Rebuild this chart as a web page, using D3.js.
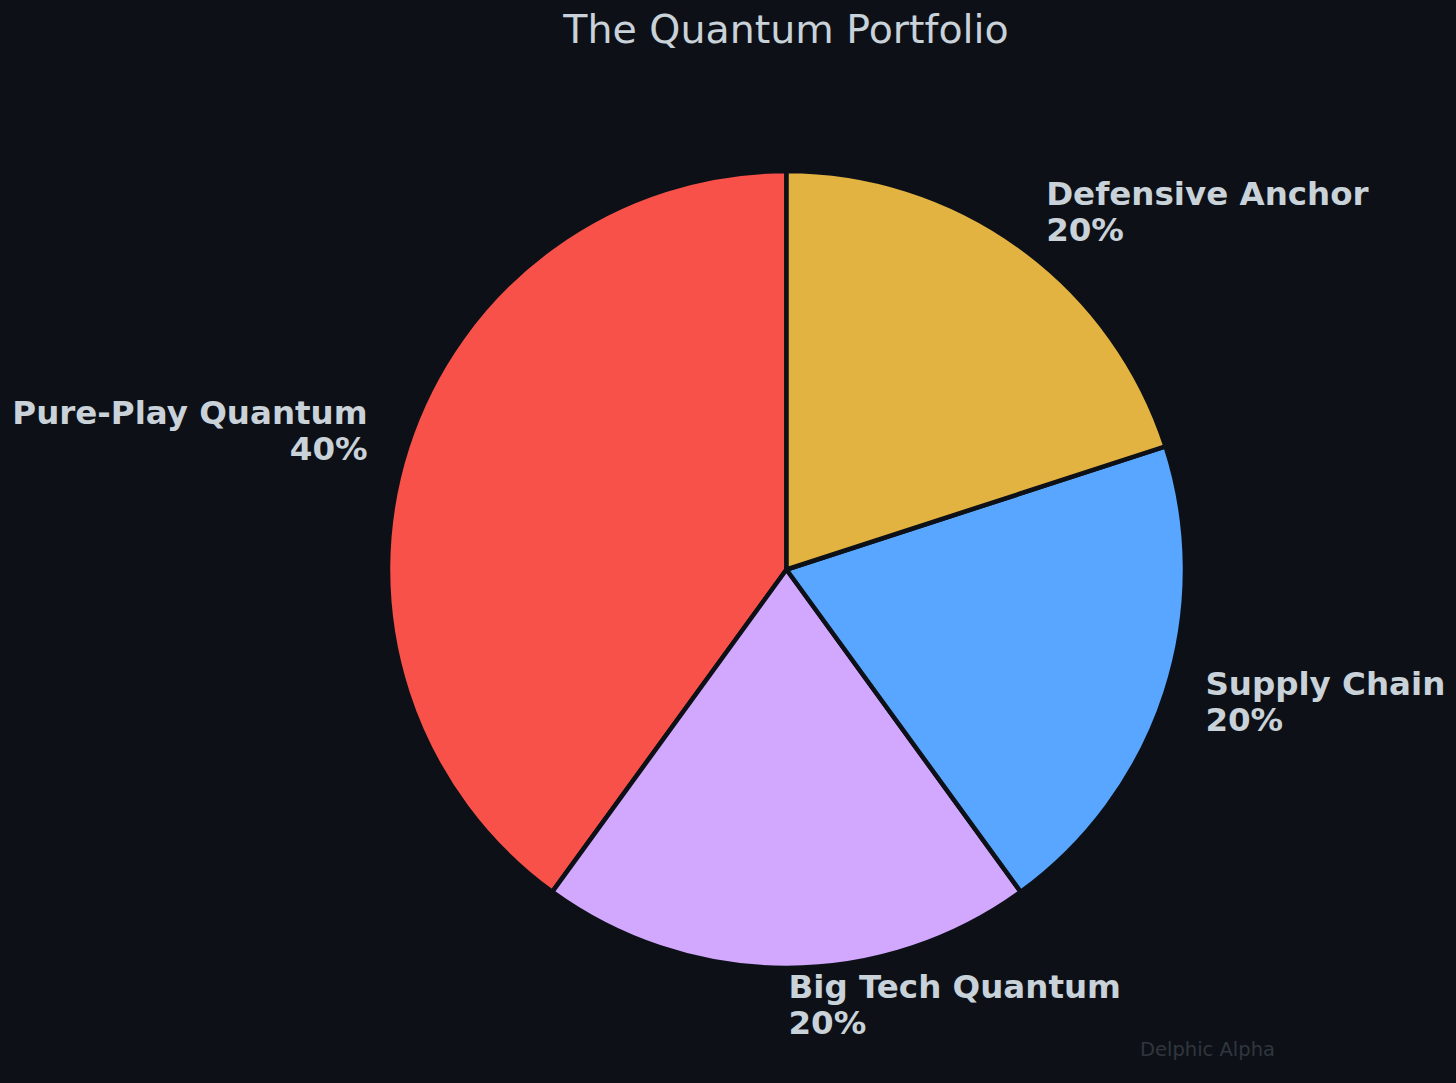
<!DOCTYPE html>
<html>
<head>
<meta charset="utf-8">
<script src="https://cdn.jsdelivr.net/npm/d3@7"></script>
<style>
  html, body { margin: 0; padding: 0; background: #0d1117; }
  svg { display: block; }
</style>
</head>
<body>
<svg id="chart" width="1456" height="1083"></svg>
<script>
// portfolio slices, in the order they are laid out (counter-clockwise from 12 o'clock)
var categories = ['Pure-Play Quantum', 'Big Tech Quantum', 'Supply Chain', 'Defensive Anchor'];
var weights = [40, 20, 20, 20];
var colors = ['#f85149', '#d2a8ff', '#58a6ff', '#e3b341'];

var W = 1456, H = 1083,
    cx = 786.5, cy = 569.5, R = 398.5,
    textColor = '#c9d1d9';

var svg = d3.select('#chart');
svg.append('rect').attr('width', W).attr('height', H).attr('fill', '#0d1117');

svg.append('text')
  .attr('x', 786).attr('y', 43)
  .attr('text-anchor', 'middle')
  .attr('font-family', 'DejaVu Sans')
  .attr('font-size', 39.5)
  .attr('fill', textColor)
  .text('The Quantum Portfolio');

var data = categories.map(function(c, i){ return {name: c, value: weights[i], color: colors[i]}; });

var pie = d3.pie()
  .value(function(d){ return d.value; })
  .sort(null)
  .startAngle(0)
  .endAngle(-2 * Math.PI);

var arc = d3.arc().innerRadius(0).outerRadius(R);

var g = svg.append('g').attr('transform', 'translate(' + cx + ',' + cy + ')');

var arcs = pie(data);

g.selectAll('path.slice')
  .data(arcs)
  .enter().append('path')
  .attr('class', 'slice')
  .attr('d', arc)
  .attr('fill', function(d){ return d.data.color; })
  .attr('stroke', '#0d1117')
  .attr('stroke-width', 4.5)
  .attr('stroke-linejoin', 'round');

g.selectAll('text.lbl')
  .data(arcs)
  .enter().append('text')
  .attr('class', 'lbl')
  .attr('font-family', 'DejaVu Sans')
  .attr('font-weight', 'bold')
  .attr('font-size', 32.5)
  .attr('fill', textColor)
  .each(function(d){
    var a = (d.startAngle + d.endAngle) / 2,
        x = Math.sin(a) * R * 1.1,
        y = -Math.cos(a) * R * 1.1,
        anchor = x > -1e-6 ? 'start' : 'end',
        t = d3.select(this).attr('text-anchor', anchor);
    x += anchor === 'start' ? 2 : -2;
    t.append('tspan').attr('x', x).attr('y', y - 10).text(d.data.name);
    t.append('tspan').attr('x', x).attr('y', y + 26).text(d.data.value + '%');
  });

svg.append('text')
  .attr('x', 1140).attr('y', 1056)
  .attr('font-family', 'DejaVu Sans')
  .attr('font-size', 19.5)
  .attr('fill', '#30363d')
  .text('Delphic Alpha');
</script>
</body>
</html>
